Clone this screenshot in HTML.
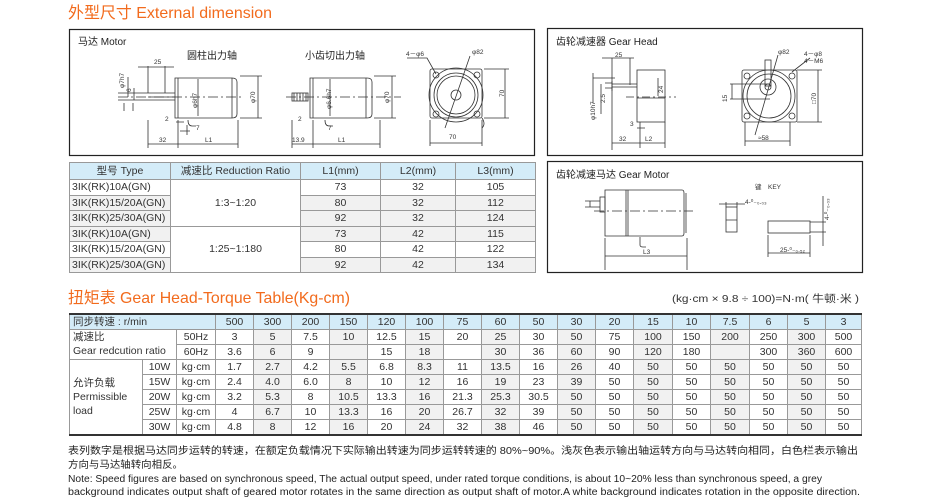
<!DOCTYPE html>
<html><head><meta charset="utf-8"><style>
html,body{margin:0;padding:0;background:#fff;}
body{width:940px;height:504px;position:relative;overflow:hidden;font-family:"Liberation Sans","Noto Sans CJK SC",sans-serif;color:#222;}
svg{position:absolute;left:0;top:0;}
table{position:absolute;border-collapse:collapse;table-layout:fixed;font-size:10.5px;}
td{border:1px solid #999;padding:0;text-align:center;white-space:nowrap;overflow:hidden;line-height:12px;color:#333;}
#dt{left:69px;top:162px;width:466px;border:1px solid #333;}
#dt tr{height:15.5px;}
#dt .h td{background:#d4ecf8;height:16px;}
#dt .g{background:#f1f1f1;}
#dt td.l{text-align:left;padding-left:2px;}
#tt{left:69px;top:313px;width:793px;border-top:2px solid #333;border-bottom:2px solid #333;border-left:1px solid #555;border-right:1px solid #555;}
#tt tr{height:15.1px;}
#tt .h td{background:#d4ecf8;}
#tt td.w{background:#fff;}
#tt td.l{text-align:left;padding-left:3px;}
col.g{background:#f1f1f1;}
</style></head><body>
<svg width="940" height="504" viewBox="0 0 940 504" font-family="Liberation Sans, Noto Sans CJK SC, sans-serif">
<text x="68" y="18" font-size="16" fill="#f26b1d" textLength="204" lengthAdjust="spacingAndGlyphs">外型尺寸 External dimension</text>
<g fill="none" stroke="#222" stroke-width="1.2">
<rect x="69.5" y="29.5" width="465" height="126"/>
<rect x="547.5" y="28.5" width="315" height="127"/>
<rect x="547.5" y="161.5" width="315" height="111"/>
</g>
<g font-size="10" fill="#222">
<text x="78" y="45">马达 Motor</text>
<text x="187" y="59">圆柱出力轴</text>
<text x="305" y="59">小齿切出力轴</text>
<text x="556" y="45">齿轮减速器 Gear Head</text>
<text x="556" y="178">齿轮减速马达 Gear Motor</text>
</g>
<g fill="none" stroke="#333" stroke-width="0.8">
<path d="M175 78 h57 q5 0 5 4 v32 q0 4 -5 4 h-57 z"/>
<line x1="178" y1="78" x2="178" y2="118"/>
<line x1="232" y1="78" x2="232" y2="118"/>
<path d="M148 66 v27 M165 66 v27 M148 93 h27 M148 100 h27 M148 97 h27"/>
<path d="M118 93 h30 M118 100 h30"/>
<path d="M118 97 h125" stroke-dasharray="10 3 2 3"/>
<path d="M138 67 h36 M128 77 v20 M134 88 v12 M124 103 v8 M133 103 v8"/>
<path d="M258 76 v42 M240 76 h22 M240 118 h22"/>
<path d="M198 79 v37"/>
<path d="M148 144 h90 M148 120 v28 M178 120 v28 M238 120 v28 M176 122 h8 M180 131 h10 M187 125 v10"/>
<path d="M188 120 q0 6 4 6 h4"/>
</g>
<g font-size="6.5" fill="#333">
<text x="154" y="64">25</text><text x="159" y="142">32</text><text x="205" y="142">L1</text>
<text x="165" y="121">2</text><text x="196" y="130">7</text>
<text transform="translate(124,88) rotate(-90)">φ7h7</text>
<text transform="translate(131,92) rotate(-90)">6</text>
<text transform="translate(197,108) rotate(-90)">φ6h7</text>
<text transform="translate(255,103) rotate(-90)">φ70</text>
</g>
<g fill="none" stroke="#333" stroke-width="0.8">
<path d="M310 78 h57 q5 0 5 4 v32 q0 4 -5 4 h-57 z"/>
<line x1="313" y1="78" x2="313" y2="118"/>
<line x1="366" y1="78" x2="366" y2="118"/>
<rect x="292" y="93" width="16" height="8"/>
<path d="M294 93 v8 M297 93 v8 M300 93 v8 M303 93 v8 M306 93 v8"/>
<path d="M286 97 h115" stroke-dasharray="10 3 2 3"/>
<path d="M392 76 v42 M374 76 h22 M374 118 h22"/>
<path d="M330 79 v37"/>
<path d="M292 144 h88 M292 120 v28 M313 120 v28 M380 120 v28"/>
<path d="M325 120 q0 6 4 6 h4"/>
</g>
<g font-size="6.5" fill="#333">
<text x="292" y="142">13.9</text><text x="338" y="142">L1</text><text x="298" y="121">2</text><text x="328" y="130">7</text>
<text transform="translate(331,109) rotate(-90)">φ6.6h7</text>
<text transform="translate(389,103) rotate(-90)">φ70</text>
</g>
<g fill="none" stroke="#333" stroke-width="0.8">
<rect x="430" y="69" width="52" height="49" rx="2"/>
<circle cx="456" cy="95" r="27"/>
<circle cx="456" cy="95" r="22"/>
<circle cx="456" cy="95" r="19"/>
<circle cx="456" cy="95" r="5"/>
<circle cx="436" cy="75" r="3"/><circle cx="477" cy="75" r="3"/><circle cx="436" cy="114" r="3"/><circle cx="477" cy="114" r="3"/>
<path d="M505 69 v49 M484 69 h25 M484 118 h25"/>
<path d="M430 120 v26 M482 120 v26 M430 143 h52"/>
<path d="M470 56 L445 128 M407 58 h20 L436 74"/>
<path d="M482 118 q4 6 0 10"/>
</g>
<g font-size="6.5" fill="#333">
<text x="406" y="56">4－φ6</text><text x="472" y="54">φ82</text><text x="449" y="139">70</text>
<text transform="translate(504,97) rotate(-90)">70</text>
</g>
<g fill="none" stroke="#333" stroke-width="0.8">
<rect x="637" y="70" width="28" height="52"/>
<line x1="637" y1="98" x2="665" y2="98"/>
<path d="M612 84 h25 M612 87 h25 M605 83 h7 M605 88 h7 M612 81 v10"/>
<path d="M612 58 v92 M630 58 v27 M602 58 h32 M640 148 v-26 M665 148 v-26 M612 143 h53"/>
<path d="M626 97 h50" stroke-dasharray="8 3 2 3"/>
<path d="M593 73 v30 M593 78 h22 M601 84 v30 M637 128 h8"/>
<path d="M658 78 v18"/>
</g>
<g font-size="6.5" fill="#333">
<text x="615" y="57">25</text><text x="619" y="141">32</text><text x="645" y="141">L2</text><text x="630" y="126">3</text>
<text transform="translate(595,120) rotate(-90)">φ10h7</text>
<text transform="translate(605,103) rotate(-90)">2.5</text>
<text transform="translate(663,93) rotate(-90)">24</text>
</g>
<g fill="none" stroke="#333" stroke-width="0.8">
<rect x="742" y="70" width="55" height="52" rx="2"/>
<circle cx="769" cy="96" r="26"/>
<circle cx="769" cy="96" r="22"/>
<circle cx="768" cy="87" r="8"/>
<circle cx="768" cy="87" r="3"/>
<rect x="765" y="60" width="6" height="26"/>
<circle cx="747" cy="76" r="3"/><circle cx="792" cy="76" r="3"/><circle cx="747" cy="116" r="3"/><circle cx="792" cy="116" r="3"/>
<path d="M818 70 v52 M797 70 h25 M797 122 h25"/>
<path d="M745 122 v24 M790 122 v24 M745 141 h45"/>
<path d="M730 84 h40 M730 99 h40 M732 84 v15"/>
<path d="M778 55 L755 135 M792 72 L810 58"/>
</g>
<g font-size="6.5" fill="#333">
<text x="778" y="54">φ82</text><text x="804" y="56">4－φ8</text><text x="804" y="63">4－M6</text><text x="758" y="140">≈58</text>
<text transform="translate(727,102) rotate(-90)">15</text>
<text transform="translate(816,104) rotate(-90)">□70</text>
</g>
<g fill="none" stroke="#333" stroke-width="0.8">
<path d="M605 190 h77 q2 0 2 3 v40 q0 3 -2 3 h-77 z"/>
<path d="M686 193 v40"/>
<path d="M626 190 v46 M628 190 v46"/>
<rect x="600" y="197" width="5" height="15"/>
<path d="M585 201 h15 M585 207 h15 M590 201 v6"/>
<path d="M594 211 h99" stroke-dasharray="10 3 2 3"/>
<path d="M640 237 v8 q0 2 3 2 h3"/>
<path d="M605 238 v32 M687 238 v32 M605 256 h82"/>
<rect x="726" y="207" width="11" height="25"/>
<path d="M726 220 h11 M719 204 h26 M726 202 v5 M737 202 v5"/>
<rect x="768" y="221" width="42" height="12"/>
<path d="M810 222 h16 M810 232 h16 M823 196 v50 M768 235 v22 M810 235 v22 M768 253 h42"/>
</g>
<g font-size="6.5" fill="#333">
<text x="643" y="254">L3</text><text x="755" y="189">键　KEY</text>
<text x="745" y="204">4-⁰₋₀.₀₃</text><text x="780" y="252">25-⁰₋₀.₅₂</text>
<text transform="translate(829,220) rotate(-90)">4-⁰₋₀.₀₃</text>
</g>
<text x="68" y="303" font-size="16" fill="#f26b1d" textLength="282" lengthAdjust="spacingAndGlyphs">扭矩表 Gear Head-Torque Table(Kg-cm)</text>
<text x="672" y="302" font-size="10.5" fill="#333" textLength="187" lengthAdjust="spacingAndGlyphs">(kg·cm × 9.8 ÷ 100)=N·m( 牛顿·米 )</text>
<g font-size="10" fill="#222">
<text x="68" y="454" textLength="790" lengthAdjust="spacingAndGlyphs">表列数字是根据马达同步运转的转速，在额定负载情况下实际输出转速为同步运转转速的 80%~90%。浅灰色表示输出轴运转方向与马达转向相同，白色栏表示输出</text>
<text x="68" y="468" textLength="115" lengthAdjust="spacingAndGlyphs">方向与马达轴转向相反。</text>
<text x="68" y="482" textLength="754" lengthAdjust="spacingAndGlyphs">Note: Speed figures are based on synchronous speed, The actual output speed, under rated torque conditions, is about 10~20% less than synchronous speed, a grey</text>
<text x="68" y="495" textLength="792" lengthAdjust="spacingAndGlyphs">background indicates output shaft of geared motor rotates in the same direction as output shaft of motor.A white background indicates rotation in the opposite direction.</text>
</g>
</svg>

<table id="dt">
<colgroup><col style="width:101px"><col style="width:130px"><col style="width:80px"><col style="width:75px"><col style="width:80px"></colgroup>
<tr class="h"><td>型号 Type</td><td>减速比 Reduction Ratio</td><td>L1(mm)</td><td>L2(mm)</td><td>L3(mm)</td></tr>
<tr><td class="l">3IK(RK)10A(GN)</td><td rowspan="3">1:3~1:20</td><td>73</td><td>32</td><td>105</td></tr>
<tr class="g"><td class="l">3IK(RK)15/20A(GN)</td><td>80</td><td>32</td><td>112</td></tr>
<tr class="g"><td class="l">3IK(RK)25/30A(GN)</td><td>92</td><td>32</td><td>124</td></tr>
<tr class="g"><td class="l">3IK(RK)10A(GN)</td><td rowspan="3" style="background:#fff">1:25~1:180</td><td>73</td><td>42</td><td>115</td></tr>
<tr><td class="l">3IK(RK)15/20A(GN)</td><td>80</td><td>42</td><td>122</td></tr>
<tr class="g"><td class="l">3IK(RK)25/30A(GN)</td><td>92</td><td>42</td><td>134</td></tr>
</table>

<table id="tt">
<colgroup><col style="width:73px"><col style="width:34px"><col style="width:39px">
<col style="width:38px"><col class="g" style="width:38px"><col style="width:38px"><col class="g" style="width:38px"><col style="width:38px"><col class="g" style="width:38px"><col style="width:38px"><col class="g" style="width:38px"><col style="width:38px"><col class="g" style="width:38px"><col style="width:38px"><col class="g" style="width:39px"><col style="width:38px"><col class="g" style="width:39px"><col style="width:38px"><col class="g" style="width:38px"><col style="width:36px"></colgroup>
<tr class="h"><td colspan="3" class="l">同步转速 : r/min</td><td>500</td><td>300</td><td>200</td><td>150</td><td>120</td><td>100</td><td>75</td><td>60</td><td>50</td><td>30</td><td>20</td><td>15</td><td>10</td><td>7.5</td><td>6</td><td>5</td><td>3</td></tr>
<tr><td colspan="2" rowspan="2" class="l w" style="line-height:14px">减速比<br>Gear redcution ratio</td><td class="w">50Hz</td><td>3</td><td>5</td><td>7.5</td><td>10</td><td>12.5</td><td>15</td><td>20</td><td>25</td><td>30</td><td>50</td><td>75</td><td>100</td><td>150</td><td>200</td><td>250</td><td>300</td><td>500</td></tr>
<tr><td class="w">60Hz</td><td>3.6</td><td>6</td><td>9</td><td></td><td>15</td><td>18</td><td></td><td>30</td><td>36</td><td>60</td><td>90</td><td>120</td><td>180</td><td></td><td>300</td><td>360</td><td>600</td></tr>
<tr><td rowspan="5" class="l w" style="line-height:14px">允许负载<br>Permissible<br>load</td><td class="w">10W</td><td class="w">kg·cm</td><td>1.7</td><td>2.7</td><td>4.2</td><td>5.5</td><td>6.8</td><td>8.3</td><td>11</td><td>13.5</td><td>16</td><td>26</td><td>40</td><td>50</td><td>50</td><td>50</td><td>50</td><td>50</td><td>50</td></tr>
<tr><td class="w">15W</td><td class="w">kg·cm</td><td>2.4</td><td>4.0</td><td>6.0</td><td>8</td><td>10</td><td>12</td><td>16</td><td>19</td><td>23</td><td>39</td><td>50</td><td>50</td><td>50</td><td>50</td><td>50</td><td>50</td><td>50</td></tr>
<tr><td class="w">20W</td><td class="w">kg·cm</td><td>3.2</td><td>5.3</td><td>8</td><td>10.5</td><td>13.3</td><td>16</td><td>21.3</td><td>25.3</td><td>30.5</td><td>50</td><td>50</td><td>50</td><td>50</td><td>50</td><td>50</td><td>50</td><td>50</td></tr>
<tr><td class="w">25W</td><td class="w">kg·cm</td><td>4</td><td>6.7</td><td>10</td><td>13.3</td><td>16</td><td>20</td><td>26.7</td><td>32</td><td>39</td><td>50</td><td>50</td><td>50</td><td>50</td><td>50</td><td>50</td><td>50</td><td>50</td></tr>
<tr><td class="w">30W</td><td class="w">kg·cm</td><td>4.8</td><td>8</td><td>12</td><td>16</td><td>20</td><td>24</td><td>32</td><td>38</td><td>46</td><td>50</td><td>50</td><td>50</td><td>50</td><td>50</td><td>50</td><td>50</td><td>50</td></tr>
</table>
</body></html>
